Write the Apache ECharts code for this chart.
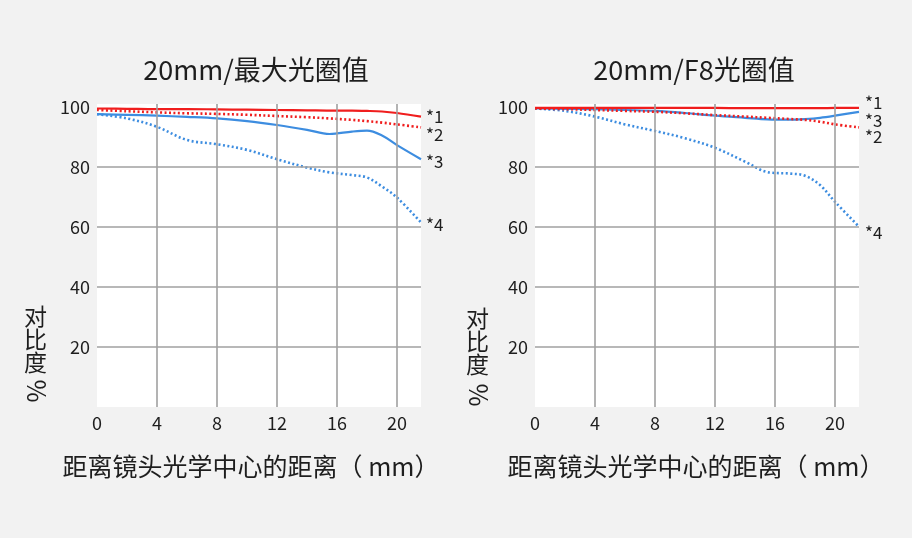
<!DOCTYPE html>
<html>
<head>
<meta charset="utf-8">
<script src="https://cdn.jsdelivr.net/npm/echarts@6/dist/echarts.min.js"></script>
<style>
html,body{margin:0;padding:0;background:#f2f2f2;}
#c{width:912px;height:538px;}
</style>
</head>
<body>
<div id="c"></div>
<script>
// ---- data ----
const titles = ['20mm/最大光圈值', '20mm/F8光圈值'];
const xName = '距离镜头光学中心的距离（ mm）';
const yName = '对比度%';
const seriesNames = ['*1', '*2', '*3', '*4'];
const xTicks = [0, 4, 8, 12, 16, 20];
const yTicks = [20, 40, 60, 80, 100];
const xPos = [0, 2, 4, 6, 8, 10, 12, 14, 15.5, 17, 18, 19, 20, 21.6];

const left1 = [99.5, 99.4, 99.3, 99.3, 99.2, 99.1, 99.0, 98.9, 98.8, 98.8, 98.7, 98.5, 98.0, 96.8];
const left2 = [99.0, 98.6, 98.2, 97.9, 97.7, 97.4, 97.0, 96.6, 96.2, 95.7, 95.3, 94.8, 94.2, 93.2];
const left3 = [97.6, 97.4, 97.1, 96.7, 96.2, 95.3, 94.0, 92.4, 91.0, 91.8, 92.1, 90.5, 87.3, 82.6];
const left4 = [97.6, 96.2, 93.4, 89.0, 87.6, 85.7, 82.6, 79.8, 78.2, 77.3, 76.5, 73.5, 69.8, 61.5];

const right1 = [99.7, 99.7, 99.7, 99.7, 99.7, 99.7, 99.7, 99.6, 99.6, 99.6, 99.6, 99.6, 99.7, 99.7];
const right2 = [99.5, 99.3, 99.0, 98.7, 98.4, 97.9, 97.3, 96.8, 96.4, 96.0, 95.7, 95.1, 94.2, 93.2];
const right3 = [99.5, 99.4, 99.3, 99.0, 98.7, 98.0, 97.1, 96.4, 95.9, 95.8, 96.0, 96.4, 97.1, 98.4];
const right4 = [99.5, 98.7, 96.8, 94.2, 92.0, 89.6, 86.4, 81.8, 78.3, 77.8, 77.1, 74.0, 68.4, 60.1];

// ---- chart ----
const FONT = '"Noto Sans CJK SC", "Noto Sans", sans-serif';
const TXT = '#1e1e1e';
const RED = '#f01e1e';
const BLUE = '#3d8de0';
const GRIDC = '#a0a0a0';

const chart = echarts.init(document.getElementById('c'));
const pairs = arr => xPos.map((x, i) => [x, arr[i]]);

const styles = [
  {color: RED, type: 'solid', width: 2.2},
  {color: RED, type: [2, 2.5], width: 2.6},
  {color: BLUE, type: 'solid', width: 2.2},
  {color: BLUE, type: [2, 2.5], width: 2.6}
];
const labelOffsets = [
  [[0, 0], [0, 7], [0, 2], [0, 2]],
  [[1, -5], [1, 9], [1, 9], [1, 6]]
];
const data = [[left1, left2, left3, left4], [right1, right2, right3, right4]];

const series = [];
const grids = [
  {left: 97, width: 324, top: 104, height: 303},
  {left: 535, width: 324, top: 104, height: 303}
];
const xAxes = [], yAxes = [];
[0, 1].forEach(g => {
  xAxes.push({
    type: 'value', gridIndex: g, min: 0, max: 21.6, interval: 4,
    axisLine: {show: false}, axisTick: {show: false}, splitLine: {show: false},
    axisLabel: {
      color: TXT, fontSize: 18, fontFamily: FONT, margin: 7,
      showMaxLabel: false,
      formatter: v => (xTicks.indexOf(v) >= 0 ? String(v) : '')
    },
    name: xName, nameLocation: 'middle', nameGap: 47,
    nameTextStyle: {color: TXT, fontSize: 25, fontFamily: FONT, padding: g === 0 ? [0, 16, 0, 0] : [0, 2, 0, 0]}
  });
  yAxes.push({
    type: 'value', gridIndex: g, min: 0, max: 101, interval: 20,
    axisLine: {show: false}, axisTick: {show: false}, splitLine: {show: false},
    axisLabel: {
      color: TXT, fontSize: 18, fontFamily: FONT, margin: 7,
      showMinLabel: false, showMaxLabel: false,
      formatter: v => (yTicks.indexOf(v) >= 0 ? String(v) : '')
    }
  });
  // grid lines through the axes
  series.push({
    type: 'line', xAxisIndex: g, yAxisIndex: g, data: pairs(data[g][0]),
    lineStyle: {opacity: 0}, showSymbol: false, silent: true, z: 1,
    markLine: {
      silent: true, symbol: 'none', label: {show: false},
      lineStyle: {color: GRIDC, width: 1.6, type: 'solid'},
      emphasis: {disabled: true},
      data: xTicks.filter(v => v > 0).map(v => ({xAxis: v}))
        .concat(yTicks.filter(v => v < 100).map(v => ({yAxis: v})))
    }
  });
  data[g].forEach((arr, i) => {
    series.push({
      type: 'line', name: seriesNames[i], xAxisIndex: g, yAxisIndex: g,
      data: pairs(arr), smooth: 0.35, showSymbol: false, z: 3 + (i < 2 ? 1 : 0),
      lineStyle: {color: styles[i].color, type: styles[i].type, width: styles[i].width},
      itemStyle: {color: styles[i].color},
      endLabel: {
        show: true, formatter: seriesNames[i], distance: 5,
        offset: labelOffsets[g][i],
        color: TXT, fontSize: 17, fontFamily: FONT
      }
    });
  });
});

chart.setOption({
  backgroundColor: '#f2f2f2',
  animation: false,
  title: [
    {text: titles[0], left: 251, top: 51, textAlign: 'center',
     textStyle: {color: TXT, fontSize: 27, fontWeight: 'normal', fontFamily: FONT}},
    {text: titles[1], left: 689, top: 51, textAlign: 'center',
     textStyle: {color: TXT, fontSize: 27, fontWeight: 'normal', fontFamily: FONT}}
  ],
  grid: grids.map(g => Object.assign({show: true, backgroundColor: '#fff', borderWidth: 0}, g)),
  xAxis: xAxes,
  yAxis: yAxes,
  series: series,
  graphic: [
    {type: 'text', left: 24, top: 305, style: {text: yName.slice(0, 3).split('').join('\n'), fill: TXT, fontSize: 23, lineHeight: 23, fontFamily: FONT}},
    {type: 'text', x: 36, y: 391, rotation: -Math.PI / 2, style: {text: yName.slice(3), fill: TXT, fontSize: 25, fontFamily: FONT, align: 'center', verticalAlign: 'middle'}},
    {type: 'text', left: 466, top: 307, style: {text: yName.slice(0, 3).split('').join('\n'), fill: TXT, fontSize: 23, lineHeight: 23, fontFamily: FONT}},
    {type: 'text', x: 478, y: 395, rotation: -Math.PI / 2, style: {text: yName.slice(3), fill: TXT, fontSize: 25, fontFamily: FONT, align: 'center', verticalAlign: 'middle'}}
  ]
});
</script>
</body>
</html>
